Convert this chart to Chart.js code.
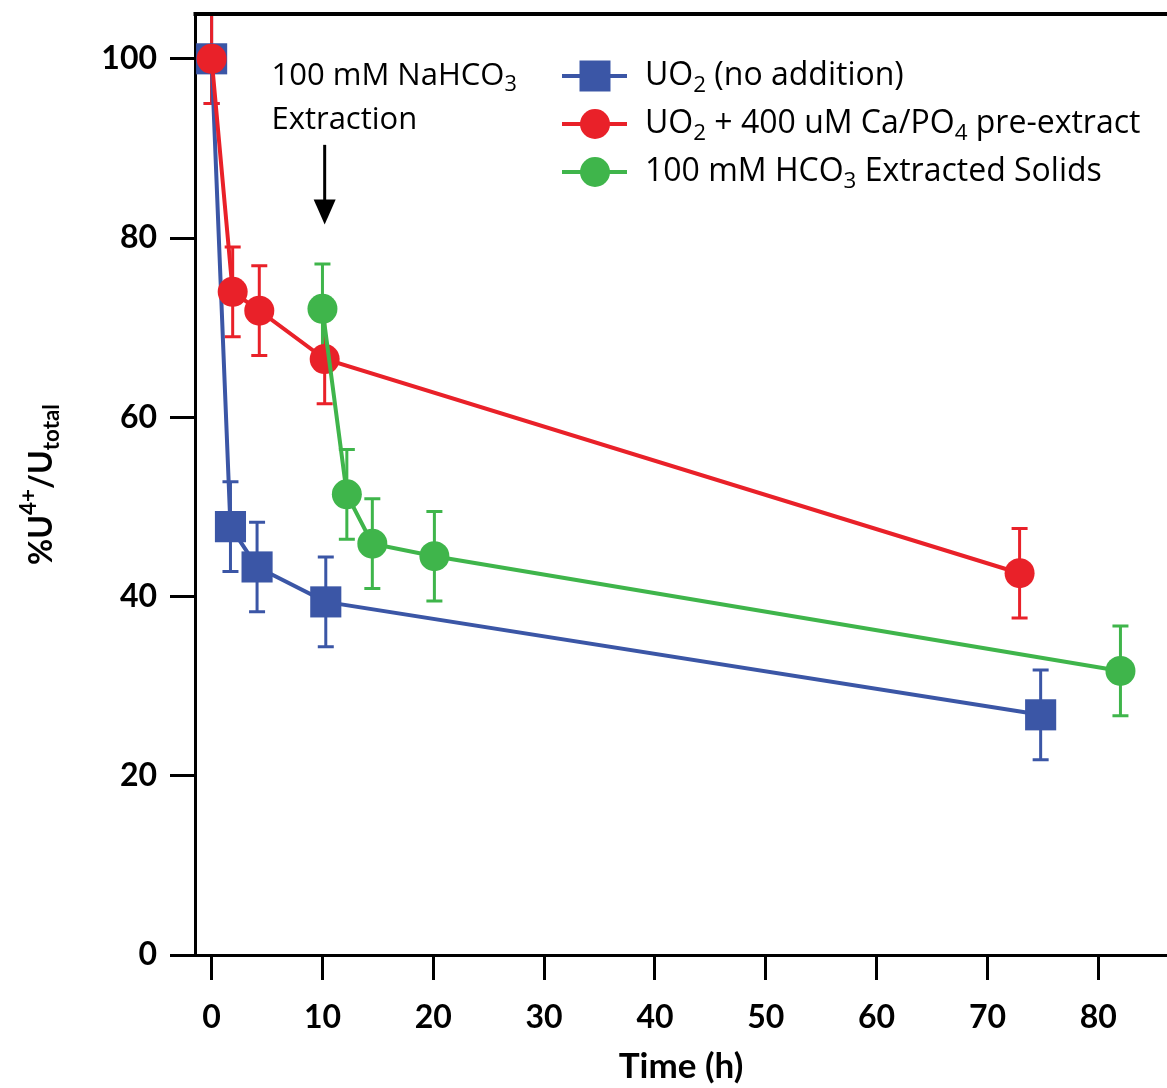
<!DOCTYPE html>
<html>
<head>
<meta charset="utf-8">
<script src="https://cdn.jsdelivr.net/npm/chart.js@4.4.0/dist/chart.umd.min.js"></script>
<style>
  html, body { margin: 0; padding: 0; background: #fff; }
  #wrap { width: 1167px; height: 1088px; }
</style>
</head>
<body>
<div id="wrap"><canvas id="grafico"></canvas></div>
<script>
// time (h) and %U4+ for each series, error = +/- value
const timeUO2 = [0, 1.7, 4.1, 10.3, 74.8]
const pctUO2 = [100, 47.8, 43.3, 39.4, 26.8]
const errUO2 = [5, 5, 5, 5, 5]

const timeCaPO4 = [0, 1.9, 4.3, 10.2, 72.9]
const pctCaPO4 = [100, 74, 71.9, 66.5, 42.6]
const errCaPO4 = [5, 5, 5, 5, 5]

const timeHCO3 = [10, 12.2, 14.5, 20.1, 82.0]
const pctHCO3 = [72.1, 51.4, 45.9, 44.5, 31.7]
const errHCO3 = [5, 5, 5, 5, 5]

const xTicks = [0, 10, 20, 30, 40, 50, 60, 70, 80]
const yTicks = [0, 20, 40, 60, 80, 100]

const blue = '#3B56A6'
const red = '#E92129'
const green = '#3FB54B'

const axisFont = 'Lato, sans-serif'
const textFont = '"Open Sans", sans-serif'

const pts = (xs, ys) => xs.map((x, i) => ({ x: x, y: ys[i] }))

// text runs with sub/superscripts
function runWidth(ctx, parts, size, weight, family) {
    let w = 0
    for (const p of parts) {
        const s = (p.sub || p.sup) ? size * 0.7 : size
        ctx.font = `${weight} ${s}px ${family}`
        w += ctx.measureText(p.t).width
    }
    return w
}
function drawRun(ctx, x, y, parts, size, weight, family) {
    let cx = x
    ctx.textBaseline = 'middle'
    ctx.textAlign = 'left'
    for (const p of parts) {
        const s = (p.sub || p.sup) ? size * 0.7 : size
        ctx.font = `${weight} ${s}px ${family}`
        const dy = p.sub ? size * 0.3 : p.sup ? -size * 0.42 : 0
        ctx.fillText(p.t, cx, y + dy)
        cx += ctx.measureText(p.t).width
    }
}

const legendRows = [
    { color: blue, style: 'rect', parts: [{ t: 'UO' }, { t: '2', sub: true }, { t: ' (no addition)' }] },
    { color: red, style: 'circle', parts: [{ t: 'UO' }, { t: '2', sub: true }, { t: ' + 400 uM Ca/PO' }, { t: '4', sub: true }, { t: ' pre-extract' }] },
    { color: green, style: 'circle', parts: [{ t: '100 mM HCO' }, { t: '3', sub: true }, { t: ' Extracted Solids' }] }
]

const errorBars = {
    id: 'errorBars',
    beforeDatasetsDraw(chart) {
        const { ctx, scales: { x, y } } = chart
        chart.data.datasets.forEach(ds => {
            ctx.save()
            ctx.strokeStyle = ds.borderColor
            ctx.lineWidth = 3
            ds.data.forEach((p, j) => {
                const e = ds.errors[j]
                const px = x.getPixelForValue(p.x)
                const top = y.getPixelForValue(p.y + e)
                const bot = y.getPixelForValue(p.y - e)
                ctx.beginPath()
                ctx.moveTo(px, top); ctx.lineTo(px, bot)
                ctx.moveTo(px - 8, top); ctx.lineTo(px + 8, top)
                ctx.moveTo(px - 8, bot); ctx.lineTo(px + 8, bot)
                ctx.stroke()
            })
            ctx.restore()
        })
    }
}

const extras = {
    id: 'extras',
    afterDraw(chart) {
        const { ctx, chartArea: a, scales: { x, y } } = chart
        ctx.save()
        // top frame line
        ctx.strokeStyle = '#000'
        ctx.lineWidth = 4
        ctx.beginPath()
        ctx.moveTo(a.left - 1.5, a.top)
        ctx.lineTo(a.right, a.top)
        ctx.stroke()

        // extraction arrow + note
        ctx.fillStyle = '#000'
        const ax = x.getPixelForValue(10.2)
        const ay0 = y.getPixelForValue(90.4)
        const ay1 = y.getPixelForValue(81.5)
        ctx.lineWidth = 3
        ctx.beginPath()
        ctx.moveTo(ax, ay0)
        ctx.lineTo(ax, ay1 - 20)
        ctx.stroke()
        ctx.beginPath()
        ctx.moveTo(ax - 11, ay1 - 25)
        ctx.lineTo(ax + 11, ay1 - 25)
        ctx.lineTo(ax, ay1)
        ctx.closePath()
        ctx.fill()
        const tx = x.getPixelForValue(5.4)
        drawRun(ctx, tx, y.getPixelForValue(98.1), [{ t: '100 mM NaHCO' }, { t: '3', sub: true }], 31, 'normal', textFont)
        drawRun(ctx, tx, y.getPixelForValue(93.2), [{ t: 'Extraction' }], 31, 'normal', textFont)

        // legend
        legendRows.forEach((row, i) => {
            const cy = 76 + i * 48
            ctx.strokeStyle = row.color
            ctx.fillStyle = row.color
            ctx.lineWidth = 4
            ctx.beginPath()
            ctx.moveTo(562, cy)
            ctx.lineTo(627, cy)
            ctx.stroke()
            ctx.beginPath()
            if (row.style === 'rect') {
                ctx.rect(595 - 15.5, cy - 15.5, 31, 31)
            } else {
                ctx.arc(595, cy, 15, 0, Math.PI * 2)
            }
            ctx.fill()
            ctx.fillStyle = '#000'
            drawRun(ctx, 645, cy, row.parts, 32, 'normal', textFont)
        })

        // y axis title
        const yt = [{ t: '%U' }, { t: '4+', sup: true }, { t: '/U' }, { t: 'total', sub: true }]
        const w = runWidth(ctx, yt, 32, 'bold', axisFont)
        ctx.translate(42, (a.top + a.bottom) / 2)
        ctx.rotate(-Math.PI / 2)
        ctx.fillStyle = '#000'
        drawRun(ctx, -w / 2, 0, yt, 32, 'bold', axisFont)
        ctx.restore()
    }
}

// keep the plot box fixed: no extra room for tick labels
const noPad = s => { s.paddingTop = 0; s.paddingBottom = 0; s.paddingLeft = 0; s.paddingRight = 0 }

new Chart(document.querySelector('#grafico'), {
    type: 'scatter',
    data: {
        datasets: [{
            label: 'UO2 (no addition)',
            data: pts(timeUO2, pctUO2),
            errors: errUO2,
            borderColor: blue,
            backgroundColor: blue,
            pointStyle: 'rect',
            pointRadius: 22,
            order: 3
        },
        {
            label: 'UO2 + 400 uM Ca/PO4 pre-extract',
            data: pts(timeCaPO4, pctCaPO4),
            errors: errCaPO4,
            borderColor: red,
            backgroundColor: red,
            pointStyle: 'circle',
            pointRadius: 15,
            order: 2
        },
        {
            label: '100 mM HCO3 Extracted Solids',
            data: pts(timeHCO3, pctHCO3),
            errors: errHCO3,
            borderColor: green,
            backgroundColor: green,
            pointStyle: 'circle',
            pointRadius: 15,
            order: 1
        }]
    },
    options: {
        responsive: true,
        maintainAspectRatio: false,
        animation: false,
        showLine: true,
        clip: false,
        elements: {
            line: { borderWidth: 4, tension: 0 },
            point: { borderWidth: 0, hoverRadius: 15 }
        },
        layout: { autoPadding: false, padding: { top: 14, right: 0, left: 0, bottom: 0 } },
        scales: {
            x: {
                type: 'linear',
                min: -1.5,
                max: 86.2,
                afterFit: s => { s.height = 133; noPad(s) },
                afterBuildTicks: s => { s.ticks = xTicks.map(v => ({ value: v })) },
                grid: { drawOnChartArea: false, tickLength: 25, tickWidth: 3, tickColor: '#000' },
                border: { color: '#000', width: 3 },
                ticks: {
                    padding: 18,
                    color: '#000',
                    font: { family: axisFont, size: 32, weight: 'bold' }
                },
                title: {
                    display: true,
                    text: 'Time (h)',
                    color: '#000',
                    padding: { top: 0, bottom: 0 },
                    font: { family: axisFont, size: 35, weight: 'bold' }
                }
            },
            y: {
                min: 0,
                max: 105,
                afterFit: s => { s.width = 195; noPad(s) },
                afterBuildTicks: s => { s.ticks = yTicks.map(v => ({ value: v })) },
                grid: { drawOnChartArea: false, tickLength: 25, tickWidth: 3, tickColor: '#000' },
                border: { color: '#000', width: 3 },
                ticks: {
                    padding: 13,
                    color: '#000',
                    font: { family: axisFont, size: 32, weight: 'bold' }
                }
            }
        },
        plugins: {
            legend: { display: false },
            tooltip: { enabled: false }
        }
    },
    plugins: [errorBars, extras]
})
</script>
</body>
</html>
